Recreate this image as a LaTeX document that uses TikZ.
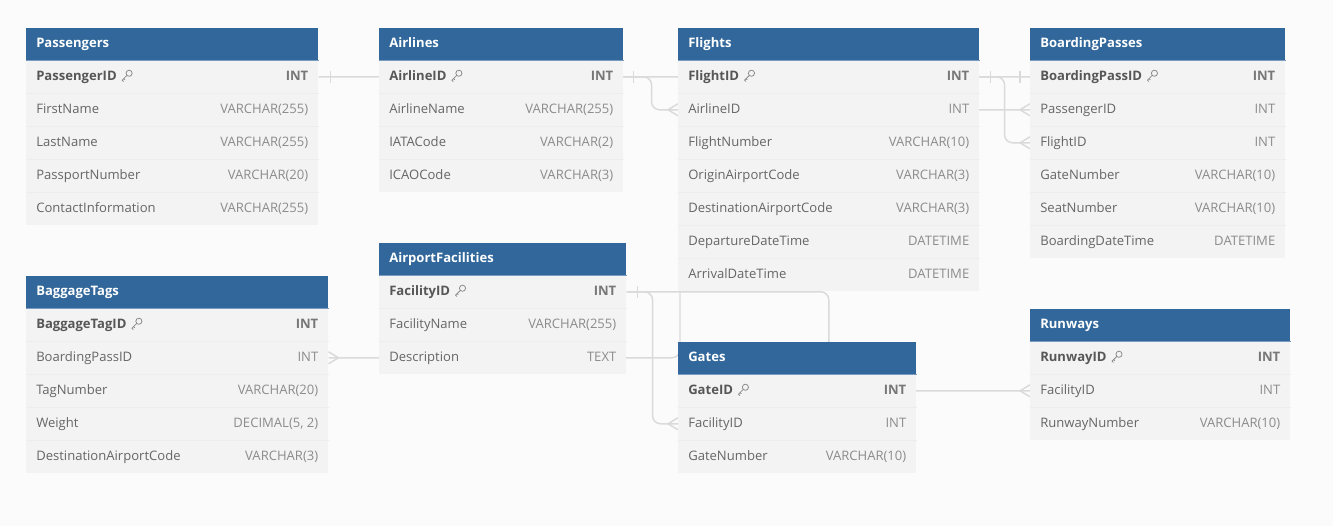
\documentclass[tikz,border=0pt]{standalone}
\usepackage{fontspec}
\setmainfont{Open Sans}
\usetikzlibrary{calc,positioning}

\definecolor{erBg}{HTML}{FBFBFB}
\definecolor{erHead}{HTML}{31679A}
\definecolor{erHeadLine}{HTML}{7A9CC0}
\definecolor{erRow}{HTML}{F3F3F3}
\definecolor{erSep}{HTML}{EDEDED}
\definecolor{erText}{HTML}{666666}
\definecolor{erKey}{HTML}{575757}
\definecolor{erType}{HTML}{8C8C8C}
\definecolor{erLine}{HTML}{DADADA}

\pgfdeclarelayer{back}
\pgfdeclarelayer{links}
\pgfsetlayers{back,links,main}

\tikzset{
  headbox/.style={fill=erHead, inner sep=0pt, minimum height=24pt, anchor=north west},
  rowbox/.style={fill=erRow, inner sep=0pt, minimum height=24.75pt, anchor=north west},
  cell/.style={inner sep=0pt, text height=1.6ex, text depth=0.4ex, font=\fontsize{9.8}{11}\selectfont},
  titletext/.style={cell, text=white, font=\fontsize{9.8}{11}\selectfont\bfseries, anchor=west},
  nametext/.style={cell, text=erText, anchor=west},
  pktext/.style={cell, text=erKey, font=\fontsize{9.8}{11}\selectfont\bfseries, anchor=west},
  typetext/.style={cell, text=erType, anchor=east},
  pktype/.style={cell, text=erType!85!black, font=\fontsize{9.8}{11}\selectfont\bfseries, anchor=east},
  rel/.style={draw=erLine, line width=1.1pt, rounded corners=6pt},
  pkey/.pic={
    \draw[erType, line width=0.6pt] (4.6pt,1.9pt) circle (2.3pt);
    \draw[erType, line width=0.6pt] (3.0pt,0.3pt) -- (-0.6pt,-3.3pt) -- (0.4pt,-4.3pt);
    \draw[erType, line width=0.6pt] (0.6pt,-2.1pt) -- (1.5pt,-3.0pt);
  }
}

% table: name, x, y, width, title, rows (field/type)
\newcommand{\erdtable}[6]{%
  \node[headbox, minimum width=#4*0.75pt] (#1) at (#2,#3) {};
  \node[titletext] (#1-title) at ($(#1.west)+(10,-1)$) {#5};
  \foreach [count=\i] \fname/\ftype in {#6} {
    \node[rowbox, minimum width=#4*0.75pt] (#1-\i) at (#2,#3+32+33*\i-33) {};
    \ifnum\i=1
      \node[pktext] (#1-\i-n) at ($(#1-\i.west)+(10,-1)$) {\fname};
      \node[pktype] (#1-\i-t) at ($(#1-\i.east)+(-10,-1)$) {\ftype};
      \pic at ($(#1-\i-n.east)+(6,0)$) {pkey};
    \else
      \draw[erSep, line width=0.6pt] (#1-\i.north west) -- (#1-\i.north east);
      \node[nametext] (#1-\i-n) at ($(#1-\i.west)+(10,-1)$) {\fname};
      \node[typetext] (#1-\i-t) at ($(#1-\i.east)+(-10,-1)$) {\ftype};
    \fi
  }
  \draw[erHeadLine, line width=0.6pt] (#1.south west) -- (#1.south east);
}

\newcommand{\onetick}[2]{\draw[rel] ($(#1)+(#2,-6)$) -- ($(#1)+(#2,6)$);}
\newcommand{\crowfoot}[2]{\draw[rel, rounded corners=0pt] ($(#1)+(0,-6)$) -- ($(#1)+(#2,0)$) -- ($(#1)+(0,6)$);}

\begin{document}
\begin{tikzpicture}[x=0.75pt, y=-0.75pt]
  \useasboundingbox (0,0) rectangle (1333,526);
  \begin{pgfonlayer}{back}
    \fill[erBg] (0,0) rectangle (1333,526);
  \end{pgfonlayer}

  % tables
  \erdtable{Passengers}{26}{28}{292}{Passengers}{PassengerID/INT, FirstName/VARCHAR(255), LastName/VARCHAR(255), PassportNumber/VARCHAR(20), ContactInformation/VARCHAR(255)}
  \erdtable{Airlines}{379}{28}{244}{Airlines}{AirlineID/INT, AirlineName/VARCHAR(255), IATACode/VARCHAR(2), ICAOCode/VARCHAR(3)}
  \erdtable{Flights}{678}{28}{301}{Flights}{FlightID/INT, AirlineID/INT, FlightNumber/VARCHAR(10), OriginAirportCode/VARCHAR(3), DestinationAirportCode/VARCHAR(3), DepartureDateTime/DATETIME, ArrivalDateTime/DATETIME}
  \erdtable{BoardingPasses}{1030}{28}{255}{BoardingPasses}{BoardingPassID/INT, PassengerID/INT, FlightID/INT, GateNumber/VARCHAR(10), SeatNumber/VARCHAR(10), BoardingDateTime/DATETIME}
  \erdtable{AirportFacilities}{379}{243}{247}{AirportFacilities}{FacilityID/INT, FacilityName/VARCHAR(255), Description/TEXT}
  \erdtable{BaggageTags}{26}{276}{302}{BaggageTags}{BaggageTagID/INT, BoardingPassID/INT, TagNumber/VARCHAR(20), Weight/{DECIMAL(5, 2)}, DestinationAirportCode/VARCHAR(3)}
  \erdtable{Gates}{678}{342}{238}{Gates}{GateID/INT, FacilityID/INT, GateNumber/VARCHAR(10)}
  \erdtable{Runways}{1030}{309}{260}{Runways}{RunwayID/INT, FacilityID/INT, RunwayNumber/VARCHAR(10)}

  % relations
  \begin{pgfonlayer}{links}
    % Passengers - BoardingPasses
    \draw[rel] (Passengers-1.east) -- (Flights-1.center) |- (BoardingPasses-2.west);
    \onetick{Passengers-1.east}{12}
    \crowfoot{BoardingPasses-2.west}{-10}
    % Airlines - Flights
    \draw[rel] (Airlines-1.east) -- ++(28,0) |- (Flights-2.west);
    \onetick{Airlines-1.east}{10}
    \crowfoot{Flights-2.west}{-10}
    % Flights - BoardingPasses
    \draw[rel] (Flights-1.east) -- ++(25,0) |- (BoardingPasses-3.west);
    \onetick{Flights-1.east}{11}
    \crowfoot{BoardingPasses-3.west}{-10}
    % BoardingPasses - BaggageTags
    \draw[rel] (BaggageTags-2.east) -| ($(Flights-1.west)+(2,0)$) -- (BoardingPasses-1.west);
    \crowfoot{BaggageTags-2.east}{10}
    \onetick{BoardingPasses-1.west}{-10}
    % AirportFacilities - Runways, Gates
    \draw[rel] (AirportFacilities-1.east) -| (Flights.center |- Runways-2.west) -- (Runways-2.west);
    \draw[rel] (AirportFacilities-1.east) -- ++(26,0) |- (Gates-2.west);
    \onetick{AirportFacilities-1.east}{11}
    \crowfoot{Runways-2.west}{-10}
    \crowfoot{Gates-2.west}{-10}
  \end{pgfonlayer}
\end{tikzpicture}
\end{document}
